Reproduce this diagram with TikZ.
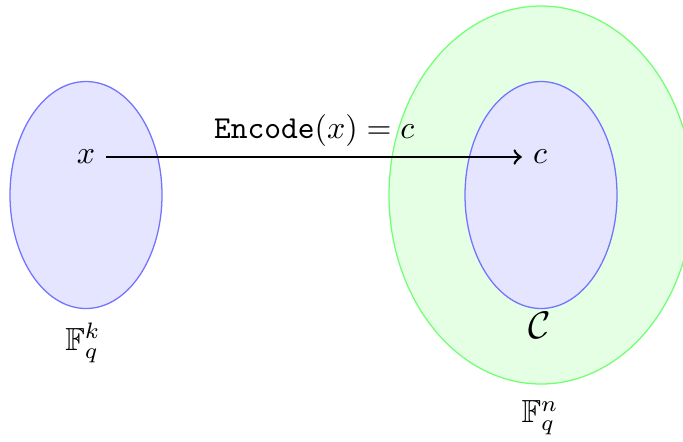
\documentclass[tikz,border=0pt]{standalone}
\usepackage{amsmath,amssymb}
\usetikzlibrary{arrows,positioning}

\begin{document}
\begin{tikzpicture}[x=0.011cm,y=0.011cm]
        \begin{scope}
          \useasboundingbox (0,0) rectangle (683,441);
          \clip (0,0) rectangle (683,441);
          \draw[blue!55,fill=blue!10] (86,246) ellipse (76 and 113.5);
          \draw[green!55,fill=green!10] (541,246) ellipse (152 and 189);
          \draw[blue!55,fill=blue!10] (541,246) ellipse (76 and 113.5);
          \node (msg) at (86,284) {$x$};
          \node (cw) at (540,284) {$c$};
          \draw[thick,->] (msg) -- (cw) node[midway,above=-0.5pt] {$\texttt{Encode}(x) = c$};
          \node (fk) at (83,98) {$\mathbb{F}_q^k$};
          \node (code) at (540,116) {\large$\mathcal{C}$};
          \node (fn) at (540,23) {$\mathbb{F}_q^n$};
        \end{scope}
      \end{tikzpicture}
\end{document}
